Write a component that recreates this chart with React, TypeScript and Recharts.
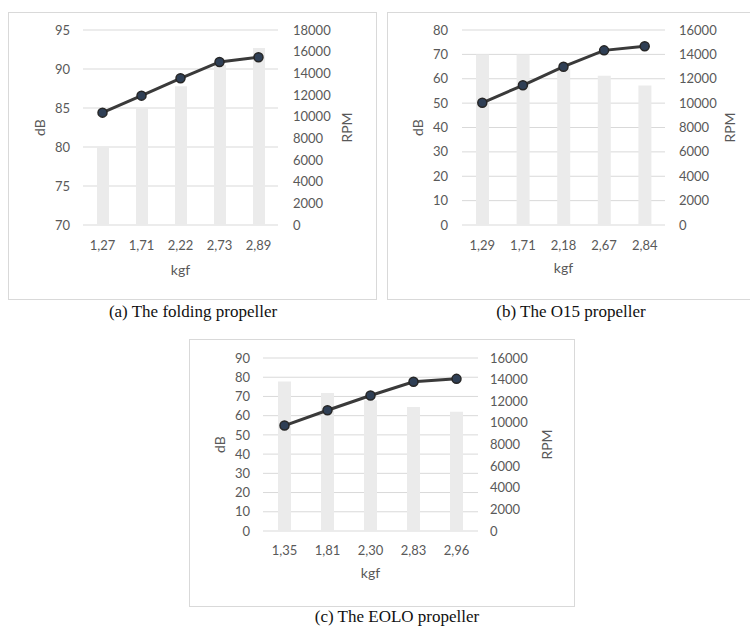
import React from 'react';
import { ComposedChart, Bar, Line, XAxis, YAxis, CartesianGrid } from 'recharts';

// (a) folding propeller
const foldingKgf = ['1,27', '1,71', '2,22', '2,73', '2,89'];
const foldingDb = [80, 85, 87.8, 90.5, 92.7];
const foldingRpm = [10370, 11940, 13540, 15050, 15480];
const foldingDbTicks = [70, 75, 80, 85, 90, 95];
const foldingRpmTicks = [0, 2000, 4000, 6000, 8000, 10000, 12000, 14000, 16000, 18000];

// (b) O15 propeller
const o15Kgf = ['1,29', '1,71', '2,18', '2,67', '2,84'];
const o15Db = [70, 70, 64, 61.2, 57.2];
const o15Rpm = [10030, 11460, 12990, 14330, 14660];
const o15DbTicks = [0, 10, 20, 30, 40, 50, 60, 70, 80];
const o15RpmTicks = [0, 2000, 4000, 6000, 8000, 10000, 12000, 14000, 16000];

// (c) EOLO propeller
const eoloKgf = ['1,35', '1,81', '2,30', '2,83', '2,96'];
const eoloDb = [77.8, 71.8, 68, 64.5, 62];
const eoloRpm = [9750, 11170, 12530, 13800, 14070];
const eoloDbTicks = [0, 10, 20, 30, 40, 50, 60, 70, 80, 90];
const eoloRpmTicks = [0, 2000, 4000, 6000, 8000, 10000, 12000, 14000, 16000];

const FONT = 'Lato, "Open Sans", sans-serif';
const TEXT = '#595959';
const GRID = '#d9d9d9';

interface PanelProps {
  kgf: string[];
  db: number[];
  rpm: number[];
  dbTicks: number[];
  rpmTicks: number[];
  left: number;
  top: number;
  width: number;
  height: number;
  plotLeft: number;
  plotRight: number;
  plotTop: number;
  plotBottom: number;
  barSize: number;
  dbX: number;
  rpmX: number;
  kgfY: number;
  xTickMargin: number;
  leftTickMargin: number;
  rightTickMargin: number;
  noRightBorder?: boolean;
}

function Panel(p: PanelProps) {
  const data = p.kgf.map((k, i) => ({ kgf: k, db: p.db[i], rpm: p.rpm[i] }));
  const leftW = p.plotLeft;
  const rightW = p.width - p.plotRight;
  const bottomH = p.height - p.plotBottom;
  const tick = { fill: TEXT, fontSize: 13, fontFamily: FONT };
  const title = { fill: TEXT, fontSize: 14, fontFamily: FONT };
  return (
    <div
      style={{
        position: 'absolute',
        left: p.left,
        top: p.top,
        width: p.width,
        height: p.height,
        border: `1px solid ${GRID}`,
        borderRight: p.noRightBorder ? 'none' : `1px solid ${GRID}`,
        background: '#fff',
      }}
    >
      <ComposedChart
        width={p.width}
        height={p.height}
        data={data}
        margin={{ top: p.plotTop, right: 0, bottom: 0, left: 0 }}
        barCategoryGap={0}
      >
        <CartesianGrid yAxisId="left" vertical={false} stroke={GRID} strokeWidth={1} />
        <XAxis
          dataKey="kgf"
          height={bottomH}
          axisLine={false}
          tickLine={false}
          tickSize={0}
          tickMargin={p.xTickMargin}
          tick={tick}
          interval={0}
          label={{ value: 'kgf', position: 'center', dy: p.kgfY - (p.plotBottom + bottomH / 2), ...title }}
        />
        <YAxis
          yAxisId="left"
          orientation="left"
          width={leftW}
          domain={[p.dbTicks[0], p.dbTicks[p.dbTicks.length - 1]]}
          ticks={p.dbTicks}
          interval={0}
          axisLine={false}
          tickLine={false}
          tickSize={0}
          tickMargin={p.leftTickMargin}
          tick={tick}
          allowDataOverflow
          label={{ value: 'dB', angle: -90, position: 'center', dx: p.dbX - leftW / 2, ...title }}
        />
        <YAxis
          yAxisId="right"
          orientation="right"
          width={rightW}
          domain={[p.rpmTicks[0], p.rpmTicks[p.rpmTicks.length - 1]]}
          ticks={p.rpmTicks}
          interval={0}
          axisLine={false}
          tickLine={false}
          tickSize={0}
          tickMargin={p.rightTickMargin}
          tick={{ ...tick, textAnchor: 'start' }}
          label={{ value: 'RPM', angle: -90, position: 'center', dx: p.rpmX - (p.plotRight + rightW / 2), ...title }}
        />
        <Bar yAxisId="left" dataKey="db" fill="#ebebeb" barSize={p.barSize} isAnimationActive={false} />
        <Line
          yAxisId="right"
          dataKey="rpm"
          type="linear"
          stroke="#3a3a3a"
          strokeWidth={3}
          dot={{ r: 4.5, fill: '#2f3f55', stroke: '#262626', strokeWidth: 1.5 }}
          isAnimationActive={false}
        />
      </ComposedChart>
    </div>
  );
}

function Caption({ text, cx, cy }: { text: string; cx: number; cy: number }) {
  return (
    <div
      style={{
        position: 'absolute',
        left: cx - 150,
        top: cy - 10,
        width: 300,
        height: 20,
        lineHeight: '20px',
        textAlign: 'center',
        fontFamily: '"Liberation Serif", "Times New Roman", serif',
        fontSize: 17,
        color: '#111',
      }}
    >
      {text}
    </div>
  );
}

export default function App() {
  return (
    <div>
      <Panel
        kgf={foldingKgf}
        db={foldingDb}
        rpm={foldingRpm}
        dbTicks={foldingDbTicks}
        rpmTicks={foldingRpmTicks}
        left={8}
        top={12}
        width={367}
        height={286}
        plotLeft={74}
        plotRight={269}
        plotTop={17}
        plotBottom={212}
        barSize={12}
        dbX={31}
        rpmX={338}
        kgfY={257}
        xTickMargin={16}
        leftTickMargin={13}
        rightTickMargin={15}
      />
      <Panel
        kgf={o15Kgf}
        db={o15Db}
        rpm={o15Rpm}
        dbTicks={o15DbTicks}
        rpmTicks={o15RpmTicks}
        left={387}
        top={12}
        width={362}
        height={286}
        plotLeft={74}
        plotRight={277}
        plotTop={17}
        plotBottom={212}
        barSize={13}
        dbX={30}
        rpmX={342}
        kgfY={255}
        xTickMargin={16}
        leftTickMargin={14}
        rightTickMargin={14}
        noRightBorder
      />
      <Panel
        kgf={eoloKgf}
        db={eoloDb}
        rpm={eoloRpm}
        dbTicks={eoloDbTicks}
        rpmTicks={eoloRpmTicks}
        left={189}
        top={339}
        width={384}
        height={266}
        plotLeft={73}
        plotRight={288}
        plotTop={18}
        plotBottom={191}
        barSize={13}
        dbX={30}
        rpmX={357}
        kgfY={233}
        xTickMargin={15}
        leftTickMargin={13}
        rightTickMargin={12}
      />
      <Caption text="(a) The folding propeller" cx={193} cy={312} />
      <Caption text="(b) The O15 propeller" cx={571} cy={312} />
      <Caption text="(c) The EOLO propeller" cx={397} cy={617} />
    </div>
  );
}
